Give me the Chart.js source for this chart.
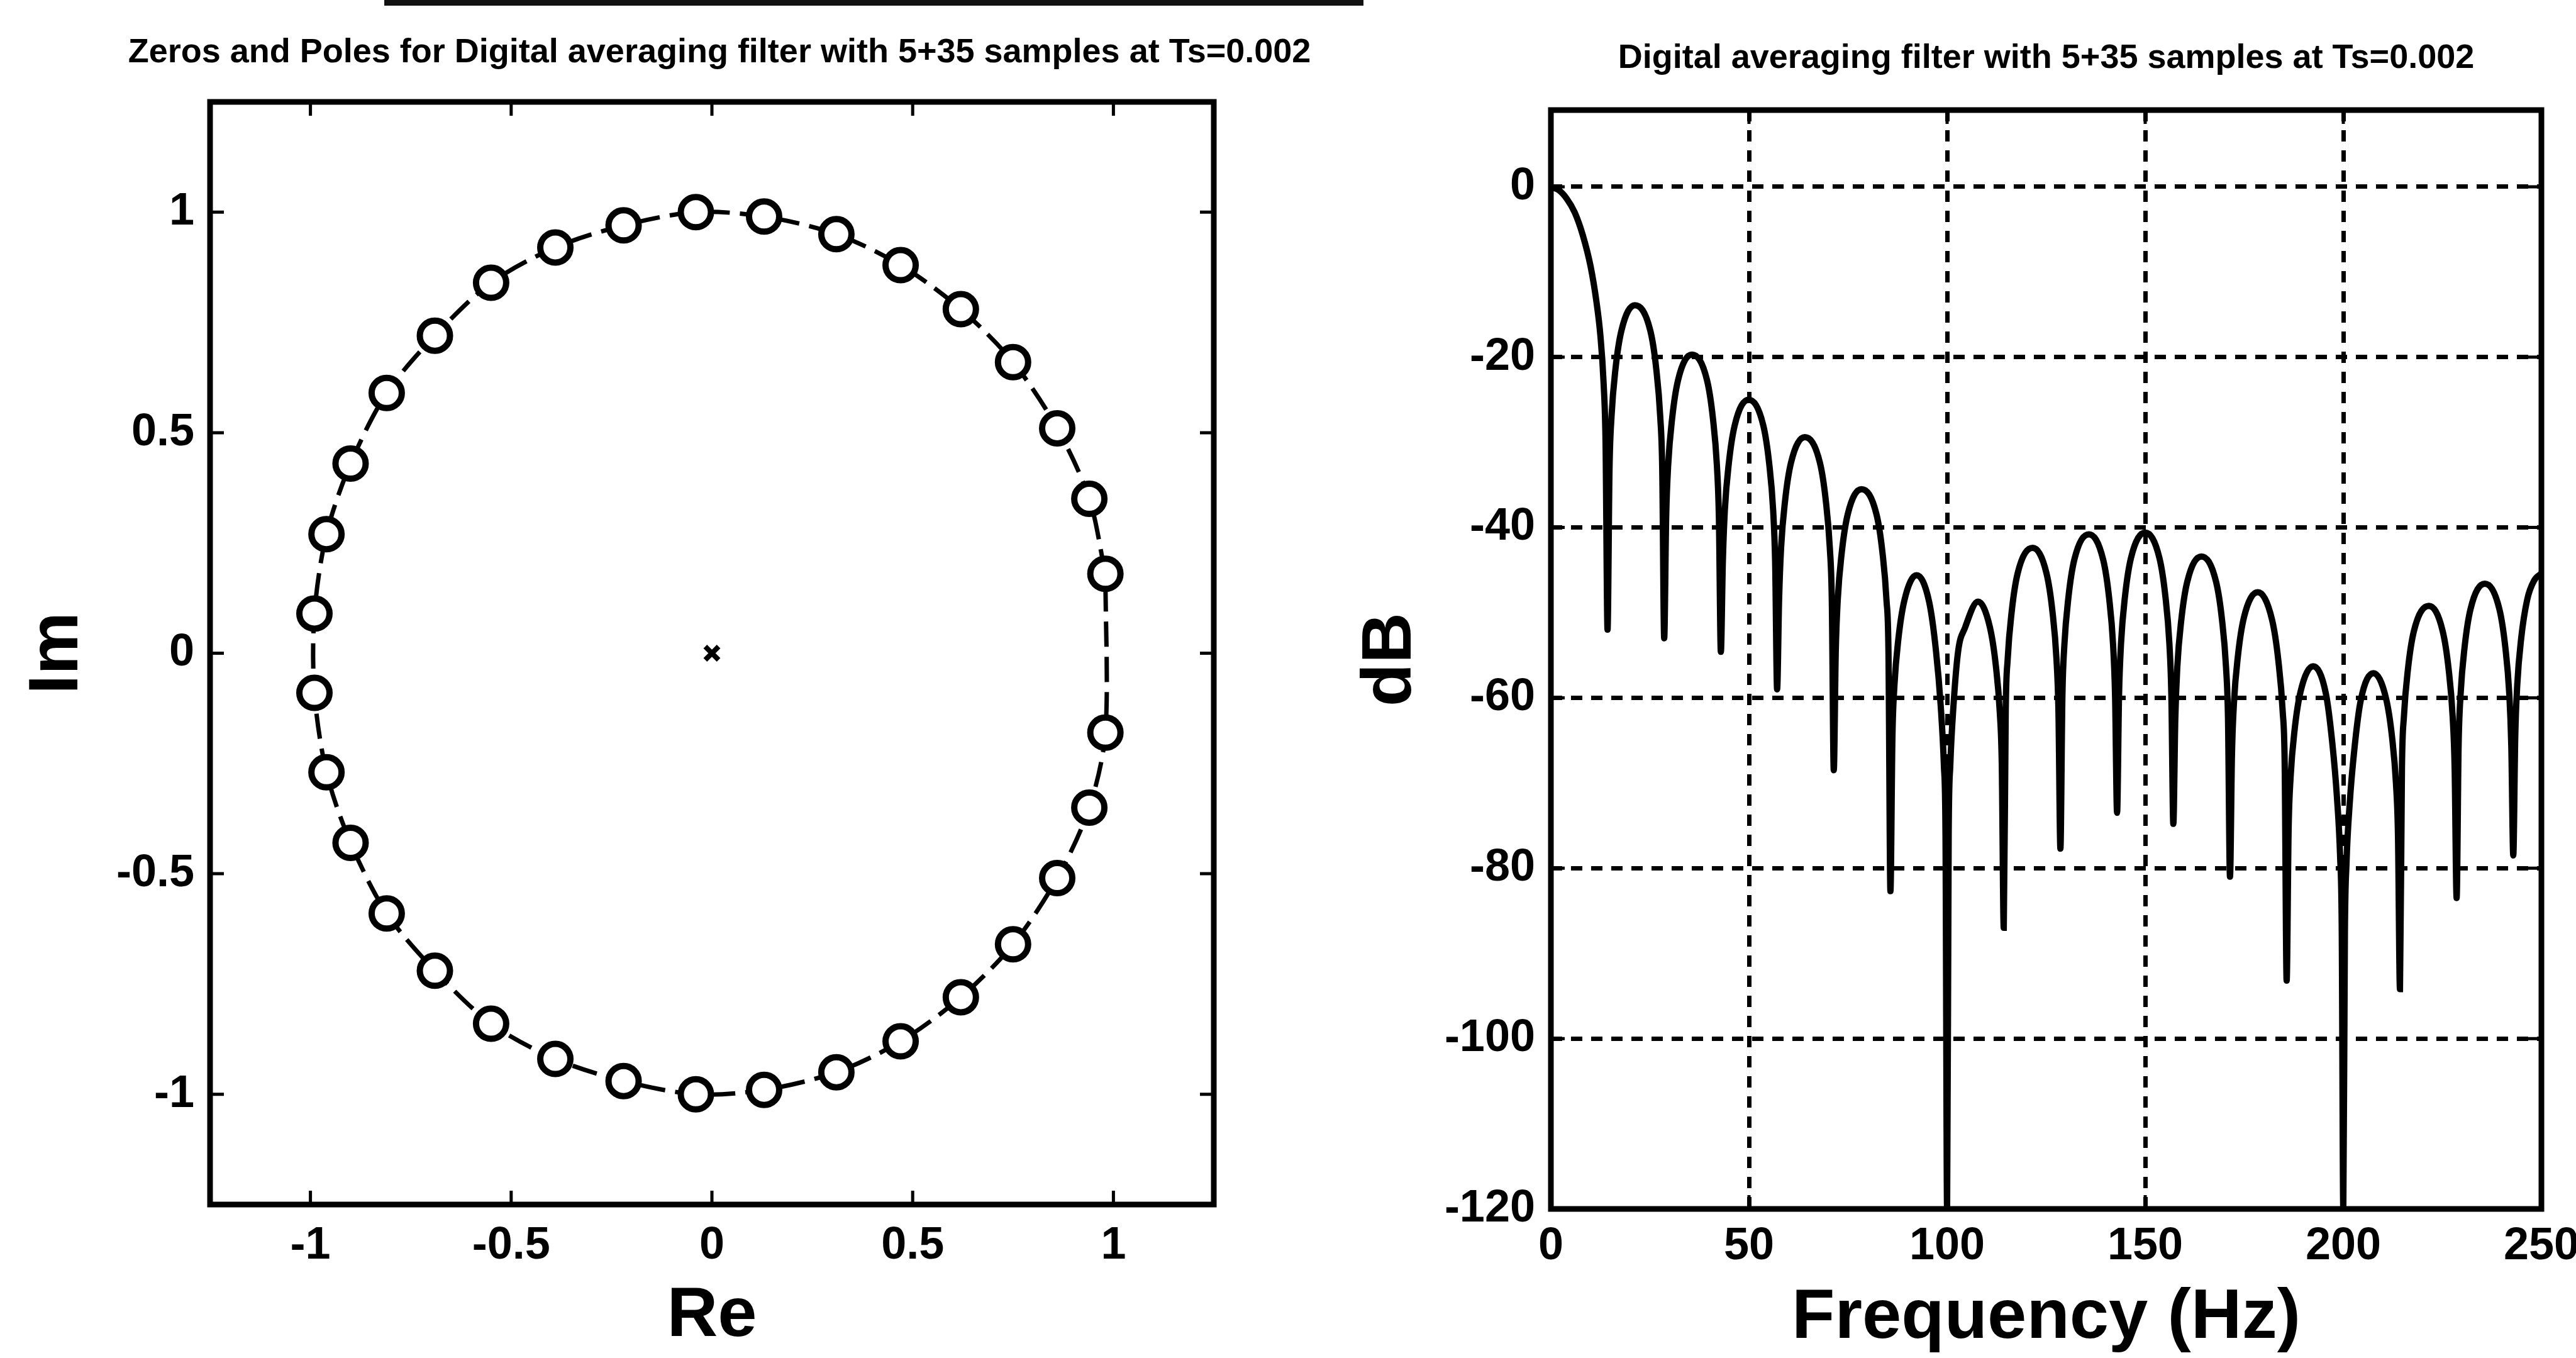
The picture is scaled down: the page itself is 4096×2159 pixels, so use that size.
<!DOCTYPE html>
<html>
<head>
<meta charset="utf-8">
<title>Filtro promediador digital 5+35</title>
<script src="https://cdn.jsdelivr.net/npm/chart.js@4.4.1/dist/chart.umd.min.js"></script>
<style>
  html, body { margin: 0; padding: 0; background: #fff; }
  body { width: 4096px; height: 2159px; position: relative; overflow: hidden; }
  .panel { position: absolute; top: 0; height: 2159px; }
  #izq { left: 0; width: 2200px; }
  #der { left: 2048px; width: 2048px; }
  /* filete del borde superior del escaneo */
  .filete { position: absolute; left: 611px; top: 0; width: 1557px; height: 9px; background: #111; }
</style>
</head>
<body>
<div class="filete"></div>
<div class="panel" id="izq"><canvas id="polosCeros"></canvas></div>
<div class="panel" id="der"><canvas id="respuesta"></canvas></div>
<script>
  var cerosRe = [0.98, 0.94, 0.86, 0.75, 0.62, 0.47, 0.31, 0.13, -0.04, -0.22, -0.39, -0.55, -0.69, -0.81, -0.90, -0.96, -0.99,
                 -0.99, -0.96, -0.90, -0.81, -0.69, -0.55, -0.39, -0.22, -0.04, 0.13, 0.31, 0.47, 0.62, 0.75, 0.86, 0.94, 0.98];
  var cerosIm = [0.18, 0.35, 0.51, 0.66, 0.78, 0.88, 0.95, 0.99, 1.00, 0.97, 0.92, 0.84, 0.72, 0.59, 0.43, 0.27, 0.09,
                 -0.09, -0.27, -0.43, -0.59, -0.72, -0.84, -0.92, -0.97, -1.00, -0.99, -0.95, -0.88, -0.78, -0.66, -0.51, -0.35, -0.18];

  // Polos (todos en el origen)
  var polosRe = [0];
  var polosIm = [0];

  var ticksRe = [-1, -0.5, 0, 0.5, 1];
  var ticksIm = [-1, -0.5, 0, 0.5, 1];

  // Respuesta en frecuencia (Hz, dB), un renglón por lóbulo
  var frecuenciaHz = [
    0, 2, 4, 6, 8, 10, 11.5, 12.5, 13.3, 13.8, 14.3,
    14.8, 15.3, 16.3, 17.8, 21.2, 25.1, 26.6, 27.6, 28.1, 28.6,
    29.1, 29.6, 30.6, 32.1, 35.6, 39.4, 40.9, 41.9, 42.4, 42.9,
    43.4, 43.9, 44.9, 46.4, 49.9, 53.6, 55.1, 56.1, 56.6, 57.1,
    57.6, 58.1, 59.1, 60.6, 64.1, 67.9, 69.4, 70.4, 70.9, 71.4,
    71.9, 72.4, 73.4, 74.9, 78.4, 82.2, 83.7, 84.7, 85.2, 85.7,
    86.2, 86.7, 87.7, 89.2, 92.3, 95.5, 97.2, 98.4, 99.2, 99.6, 100,
    100.4, 100.8, 101.6, 102.8, 104.5, 107.8, 110.8, 112.3, 113.3, 113.8, 114.3,
    114.8, 115.3, 116.3, 117.8, 121.6, 125.1, 126.6, 127.6, 128.1, 128.6,
    129.1, 129.6, 130.6, 132.1, 135.8, 139.4, 140.9, 141.9, 142.4, 142.9,
    143.4, 143.9, 144.9, 146.4, 150.0, 153.6, 155.1, 156.1, 156.6, 157.1,
    157.6, 158.1, 159.1, 160.6, 164.2, 167.9, 169.4, 170.4, 170.9, 171.4,
    171.9, 172.4, 173.4, 174.9, 178.4, 182.0, 183.6, 184.7, 185.2, 185.7,
    186.2, 186.7, 187.7, 189.2, 192.4, 195.6, 197.2, 198.4, 199.2, 199.6, 200,
    200.4, 200.8, 201.6, 202.8, 204.4, 207.6, 210.8, 212.3, 213.3, 213.8, 214.3,
    214.8, 215.3, 216.3, 217.8, 221.6, 225.1, 226.6, 227.6, 228.1, 228.6,
    229.1, 229.6, 230.6, 232.1, 235.7, 239.4, 240.9, 241.9, 242.4, 242.9,
    243.4, 243.9, 244.9, 246.4, 248.2, 250
  ];
  var magnitudDb = [
    0, -0.4, -1.4, -3.0, -5.6, -9.3, -13.5, -17.5, -23, -30, -52,
    -33, -27, -21.4, -16.9, -13.9, -16.9, -21.4, -27, -33, -53,
    -38.7, -32.7, -27.2, -22.7, -19.7, -22.7, -27.2, -32.7, -38.7, -54.6,
    -44, -38, -32.5, -28, -25, -28, -32.5, -38, -44, -59,
    -48.4, -42.4, -36.9, -32.4, -29.4, -32.4, -36.9, -42.4, -48.4, -68.5,
    -54.5, -48.5, -43, -38.5, -35.5, -38.5, -43, -48.5, -54.5, -82.7,
    -64.6, -58.6, -53.1, -48.6, -45.6, -48.8, -54.5, -61, -68, -76, -120,
    -76, -68, -61, -54.5, -51.8, -48.7, -51.7, -56.2, -61.7, -67.7, -87,
    -61.4, -55.4, -49.9, -45.4, -42.4, -45.4, -49.9, -55.4, -61.4, -77.7,
    -59.8, -53.8, -48.3, -43.8, -40.8, -43.8, -48.3, -53.8, -59.8, -73.5,
    -59.6, -53.6, -48.1, -43.6, -40.6, -43.6, -48.1, -53.6, -59.6, -74.8,
    -62.4, -56.4, -50.9, -46.4, -43.4, -46.4, -50.9, -56.4, -62.4, -81,
    -66.6, -60.6, -55.1, -50.6, -47.6, -50.8, -55.6, -61.6, -67.6, -93.2,
    -75.3, -69.3, -63.8, -59.3, -56.3, -59.5, -65.2, -71.7, -78.7, -86.7, -120,
    -87.5, -79.5, -72.5, -66, -60.3, -57.1, -60.1, -64.6, -70.1, -76.1, -94.2,
    -68.2, -62.2, -56.7, -52.2, -49.2, -52.2, -56.7, -62.2, -68.2, -83.5,
    -65.6, -59.6, -54.1, -49.6, -46.6, -49.6, -54.1, -59.6, -65.6, -78.5,
    -64.5, -58.5, -53, -48.5, -46.2, -45.4
  ];

  var ticksHz = [0, 50, 100, 150, 200, 250];
  var ticksDb = [-120, -100, -80, -60, -40, -20, 0];

  var FAMILIA = "'Liberation Sans', Arial, sans-serif";
  var fuenteTicks = { family: FAMILIA, size: 72, weight: 'bold', lineHeight: 1 };
  var fuenteEjes = { family: FAMILIA, size: 112, weight: 'bold', lineHeight: 1 };

  Chart.defaults.color = '#000';
  Chart.defaults.font.family = FAMILIA;

  // Marco negro con marcas hacia dentro en los cuatro lados (estilo MATLAB)
  var marcoConMarcas = {
    id: 'marcoConMarcas',
    afterDraw: function (chart, args, opciones) {
      var ctx = chart.ctx;
      var area = chart.chartArea;
      var ejeX = chart.scales.x;
      var ejeY = chart.scales.y;
      var largo = opciones.largo;
      ctx.save();
      ctx.strokeStyle = '#000';
      ctx.lineWidth = opciones.grosorMarca;
      ctx.beginPath();
      ejeX.ticks.forEach(function (t) {
        var px = ejeX.getPixelForValue(t.value);
        ctx.moveTo(px, area.bottom); ctx.lineTo(px, area.bottom - largo);
        ctx.moveTo(px, area.top); ctx.lineTo(px, area.top + largo);
      });
      ejeY.ticks.forEach(function (t) {
        var py = ejeY.getPixelForValue(t.value);
        ctx.moveTo(area.left, py); ctx.lineTo(area.left + largo, py);
        ctx.moveTo(area.right, py); ctx.lineTo(area.right - largo, py);
      });
      ctx.stroke();
      ctx.lineWidth = opciones.grosorMarco;
      ctx.strokeRect(area.left, area.top, area.right - area.left, area.bottom - area.top);
      ctx.restore();
    }
  };

  // Título centrado sobre el área del gráfico (puede ser más ancho que ella)
  var tituloCentrado = {
    id: 'tituloCentrado',
    afterDraw: function (chart, args, opciones) {
      var ctx = chart.ctx;
      var area = chart.chartArea;
      ctx.save();
      ctx.fillStyle = '#000';
      ctx.font = 'bold ' + opciones.tamanio + 'px ' + FAMILIA;
      ctx.textAlign = 'center';
      ctx.textBaseline = 'middle';
      ctx.fillText(opciones.texto, (area.left + area.right) / 2 + opciones.desplazamiento, opciones.y);
      ctx.restore();
    }
  };

  // Sustituye los ticks automáticos por una lista fija
  function fijarTicks(valores) {
    return function (eje) {
      eje.ticks = valores.map(function (v) { return { value: v }; });
    };
  }

  // Alto fijo del eje horizontal, sin relleno extra por las etiquetas de los extremos
  function altoFijo(alto) {
    return function (eje) {
      eje.height = alto;
      eje.paddingLeft = 0;
      eje.paddingRight = 0;
    };
  }

  function anchoFijo(ancho) {
    return function (eje) {
      eje.width = ancho;
      eje.paddingTop = 0;
      eje.paddingBottom = 0;
    };
  }

  function aPuntos(xs, ys) {
    return xs.map(function (x, i) { return { x: x, y: ys[i] }; });
  }

  function mostrarPolosCeros() {
    var ceros = aPuntos(cerosRe, cerosIm);
    var circulo = ceros.concat([ceros[0]]);

    new Chart(document.getElementById('polosCeros'), {
      type: 'scatter',
      data: {
        datasets: [{
          label: 'Circulo unitario',
          data: circulo,
          showLine: true,
          borderColor: '#000',
          borderWidth: 7,
          borderDash: [40, 16],
          pointRadius: 0,
          tension: 0.3,
          order: 3
        }, {
          label: 'Ceros',
          data: ceros,
          pointStyle: 'circle',
          pointRadius: 24,
          borderWidth: 10,
          borderColor: '#000',
          backgroundColor: '#fff',
          order: 1
        }, {
          label: 'Polos',
          data: aPuntos(polosRe, polosIm),
          pointStyle: 'crossRot',
          pointRadius: 15,
          borderWidth: 8,
          borderColor: '#000',
          order: 2
        }]
      },
      options: {
        responsive: true,
        maintainAspectRatio: false,
        animation: false,
        layout: { padding: { left: 0, right: 270, top: 162, bottom: 0 } },
        plugins: {
          legend: { display: false },
          tooltip: { enabled: false },
          marcoConMarcas: { largo: 22, grosorMarca: 5, grosorMarco: 9 },
          tituloCentrado: {
            texto: 'Zeros and Poles for Digital averaging filter with 5+35 samples at Ts=0.002',
            tamanio: 54, y: 84, desplazamiento: 12
          }
        },
        scales: {
          x: {
            type: 'linear',
            min: -1.25,
            max: 1.25,
            afterBuildTicks: fijarTicks(ticksRe),
            afterFit: altoFijo(244),
            grid: { display: false },
            border: { display: false },
            ticks: {
              autoSkip: false, maxRotation: 0, padding: 22, font: fuenteTicks, color: '#000',
              callback: function (v) { return String(v); }
            },
            title: { display: true, text: 'Re', font: fuenteEjes, color: '#000', padding: { top: 0, bottom: 10 } }
          },
          y: {
            type: 'linear',
            min: -1.25,
            max: 1.25,
            afterBuildTicks: fijarTicks(ticksIm),
            afterFit: anchoFijo(334),
            grid: { display: false },
            border: { display: false },
            ticks: {
              autoSkip: false, padding: 17, font: fuenteTicks, color: '#000',
              callback: function (v) { return String(v); }
            },
            title: { display: true, text: 'Im', font: fuenteEjes, color: '#000', padding: { top: 36, bottom: 0 } }
          }
        }
      },
      plugins: [marcoConMarcas, tituloCentrado]
    });
  }

  function mostrarRespuesta() {
    new Chart(document.getElementById('respuesta'), {
      type: 'line',
      data: {
        datasets: [{
          label: 'Magnitud',
          data: aPuntos(frecuenciaHz, magnitudDb),
          borderColor: '#000',
          borderWidth: 10,
          pointRadius: 0,
          cubicInterpolationMode: 'monotone'
        }]
      },
      options: {
        responsive: true,
        maintainAspectRatio: false,
        animation: false,
        layout: { padding: { left: 0, right: 55, top: 175, bottom: 0 } },
        plugins: {
          legend: { display: false },
          tooltip: { enabled: false },
          marcoConMarcas: { largo: 22, grosorMarca: 5, grosorMarco: 9 },
          tituloCentrado: {
            texto: 'Digital averaging filter with 5+35 samples at Ts=0.002',
            tamanio: 54, y: 93, desplazamiento: 0
          }
        },
        scales: {
          x: {
            type: 'linear',
            min: 0,
            max: 250,
            afterBuildTicks: fijarTicks(ticksHz),
            afterFit: altoFijo(237),
            grid: { color: '#000', lineWidth: 7, drawTicks: false },
            border: { display: false, dash: [18, 14] },
            ticks: { autoSkip: false, maxRotation: 0, padding: 24, font: fuenteTicks, color: '#000' },
            title: { display: true, text: 'Frequency (Hz)', font: fuenteEjes, color: '#000', padding: { top: 0, bottom: 7 } }
          },
          y: {
            type: 'linear',
            min: -120,
            max: 9,
            afterBuildTicks: fijarTicks(ticksDb),
            afterFit: anchoFijo(418),
            grid: { color: '#000', lineWidth: 7, drawTicks: false },
            border: { display: false, dash: [18, 14] },
            ticks: { autoSkip: false, padding: 25, font: fuenteTicks, color: '#000' },
            title: { display: true, text: 'dB', font: fuenteEjes, color: '#000', padding: { top: 108, bottom: 0 } }
          }
        }
      },
      plugins: [marcoConMarcas, tituloCentrado]
    });
  }

  document.addEventListener('DOMContentLoaded', function () {
    mostrarPolosCeros();
    mostrarRespuesta();
  });
</script>
</body>
</html>
